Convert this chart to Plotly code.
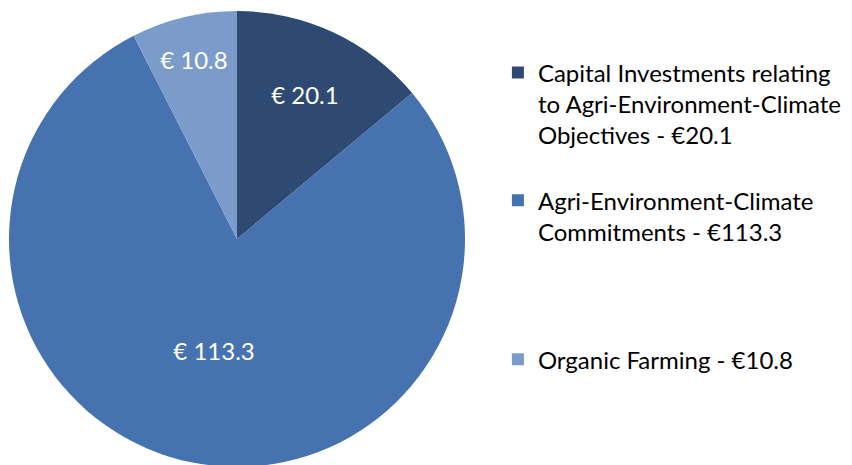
import plotly.graph_objects as go

labels = [
    "Capital Investments relating<br>to Agri-Environment-Climate<br>Objectives - €20.1",
    "Agri-Environment-Climate<br>Commitments - €113.3",
    "Organic Farming - €10.8",
]
values = [20.1, 113.3, 10.8]
colors = ["#2E4A72", "#4672AF", "#7B9CCB"]

# spacer lines so the legend entries sit apart like the original
pad = ["<br> ", "<br> <br> <br> ", ""]

fig = go.Figure()
fig.add_trace(go.Pie(
    labels=[l + p for l, p in zip(labels, pad)],
    values=values,
    marker=dict(colors=colors, line=dict(width=0)),
    sort=False,
    direction="clockwise",
    rotation=0,
    texttemplate="€ %{value}",
    textposition="inside",
    insidetextorientation="horizontal",
    textfont=dict(family="Lato", size=24, color="white"),
    domain=dict(x=[1 / 852, 457 / 852], y=[6 / 465, 462 / 465]),
    hoverinfo="label+value",
))

fig.update_layout(
    width=852, height=465,
    margin=dict(l=0, r=0, t=0, b=0),
    paper_bgcolor="white",
    plot_bgcolor="white",
    font=dict(family="Lato", size=24, color="black"),
    legend=dict(
        x=0.575, y=0.909, xanchor="left", yanchor="top",
        valign="top",
        font=dict(family="Lato", size=24, color="black"),
        itemwidth=30,
    ),
)

fig.write_html("out.html")
